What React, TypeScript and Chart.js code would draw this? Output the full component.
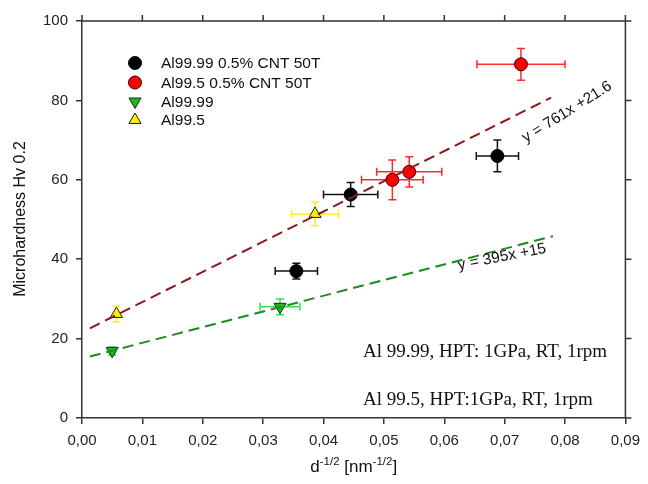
import React, { useEffect, useRef } from 'react';
import { Chart, registerables } from 'chart.js';
Chart.register(...registerables);

// ---- data ----
const xTickValues = [0, 0.01, 0.02, 0.03, 0.04, 0.05, 0.06, 0.07, 0.08, 0.09];
const yTickValues = [0, 20, 40, 60, 80, 100];

const cntPureX = [0.0355, 0.0445, 0.0688];
const cntPureY = [37.0, 56.3, 66.0];
const cntPureXErr = [0.0035, 0.0045, 0.0035];
const cntPureYErr = [2.0, 3.0, 4.0];

const cntAlX = [0.0514, 0.0542, 0.0727];
const cntAlY = [60.0, 62.0, 89.1];
const cntAlXErr = [0.0051, 0.0054, 0.0073];
const cntAlYErr = [5.0, 3.8, 4.0];

const pureX = [0.005, 0.0328];
const pureY = [16.9, 28.0];
const pureXErr = [0.0003, 0.0033];
const pureYErr = [1.0, 2.0];

const alX = [0.0057, 0.0386];
const alY = [26.2, 51.4];
const alXErr = [0.0003, 0.0039];
const alYErr = [2.0, 3.0];

const fitHighX = [0.0013, 0.0777];
const fitHighY = [22.6, 80.7];
const fitLowX = [0.0013, 0.078];
const fitLowY = [15.5, 45.8];

const legendLabels = ['Al99.99 0.5% CNT 50T', 'Al99.5 0.5% CNT 50T', 'Al99.99', 'Al99.5'];
const fitHighLabel = 'y = 761x +21.6';
const fitLowLabel = 'y = 395x +15';
const noteLines = ['Al 99.99, HPT: 1GPa, RT, 1rpm', 'Al 99.5, HPT:1GPa, RT, 1rpm'];
const yTitle = 'Microhardness Hv 0.2';

const SANS = '"Liberation Sans", Arial, sans-serif';
const SERIF = '"Liberation Serif", "Times New Roman", serif';

const pts = (xs: number[], ys: number[]) => xs.map((x, i) => ({ x, y: ys[i] }));

const errSeries = [
  { xs: cntPureX, ys: cntPureY, ex: cntPureXErr, ey: cntPureYErr, color: '#111111' },
  { xs: cntAlX, ys: cntAlY, ex: cntAlXErr, ey: cntAlYErr, color: '#ff2a2a' },
  { xs: pureX, ys: pureY, ex: pureXErr, ey: pureYErr, color: '#3ddc4a' },
  { xs: alX, ys: alY, ex: alXErr, ey: alYErr, color: '#ffee22' },
];

function drawMarker(ctx: CanvasRenderingContext2D, kind: string, x: number, y: number, fill: string, stroke: string) {
  ctx.save();
  ctx.fillStyle = fill;
  ctx.strokeStyle = stroke;
  ctx.lineWidth = 1;
  ctx.beginPath();
  if (kind === 'circle') {
    ctx.arc(x, y, 6.5, 0, Math.PI * 2);
  } else {
    const r = 7;
    const dir = kind === 'down' ? 1 : -1;
    ctx.moveTo(x, y + dir * r);
    ctx.lineTo(x - r * 0.866, y - dir * r * 0.5);
    ctx.lineTo(x + r * 0.866, y - dir * r * 0.5);
    ctx.closePath();
  }
  ctx.fill();
  ctx.stroke();
  ctx.restore();
}

const errorBarPlugin = {
  id: 'errorBars',
  beforeDatasetsDraw(chart: any) {
    const { ctx, scales } = chart;
    const xs = scales.x, ys = scales.y;
    ctx.save();
    ctx.lineWidth = 1.5;
    errSeries.forEach((s) => {
      ctx.strokeStyle = s.color;
      s.xs.forEach((x, i) => {
        const y = s.ys[i];
        const px = xs.getPixelForValue(x);
        const py = ys.getPixelForValue(y);
        const x0 = xs.getPixelForValue(x - s.ex[i]);
        const x1 = xs.getPixelForValue(x + s.ex[i]);
        const y0 = ys.getPixelForValue(y - s.ey[i]);
        const y1 = ys.getPixelForValue(y + s.ey[i]);
        const c = 4;
        ctx.beginPath();
        ctx.moveTo(x0, py); ctx.lineTo(x1, py);
        ctx.moveTo(x0, py - c); ctx.lineTo(x0, py + c);
        ctx.moveTo(x1, py - c); ctx.lineTo(x1, py + c);
        ctx.moveTo(px, y0); ctx.lineTo(px, y1);
        ctx.moveTo(px - c, y0); ctx.lineTo(px + c, y0);
        ctx.moveTo(px - c, y1); ctx.lineTo(px + c, y1);
        ctx.stroke();
      });
    });
    ctx.restore();
  },
};

const decorPlugin = {
  id: 'decor',
  afterDraw(chart: any) {
    const { ctx, chartArea, scales } = chart;
    const { left, right, top, bottom } = chartArea;
    ctx.save();
    // top and right frame with outward ticks
    ctx.strokeStyle = '#333333';
    ctx.lineWidth = 1.5;
    ctx.beginPath();
    ctx.moveTo(left, top); ctx.lineTo(right, top); ctx.lineTo(right, bottom);
    xTickValues.forEach((v) => {
      const px = scales.x.getPixelForValue(v);
      ctx.moveTo(px, top); ctx.lineTo(px, top - 6);
    });
    yTickValues.forEach((v) => {
      const py = scales.y.getPixelForValue(v);
      ctx.moveTo(right, py); ctx.lineTo(right + 6, py);
    });
    ctx.stroke();

    // legend
    const lx = 135, tx = 161;
    const rows = [63, 82.5, 101.5, 120];
    const kinds = ['circle', 'circle', 'down', 'up'];
    const fills = ['#000000', '#ff0000', '#22b422', '#ffee00'];
    const strokes = ['#000000', '#3a0000', '#0a3a0a', '#222222'];
    ctx.font = `15.5px ${SANS}`;
    ctx.textBaseline = 'middle';
    ctx.textAlign = 'left';
    legendLabels.forEach((lab, i) => {
      drawMarker(ctx, kinds[i], lx, rows[i], fills[i], strokes[i]);
      ctx.fillStyle = '#111111';
      ctx.fillText(lab, tx, rows[i] + 1);
    });

    // fit labels
    ctx.fillStyle = '#111111';
    ctx.save();
    ctx.translate(567, 112);
    ctx.rotate(-32 * Math.PI / 180);
    ctx.textAlign = 'center';
    ctx.textBaseline = 'middle';
    ctx.font = `15.5px ${SANS}`;
    ctx.fillText(fitHighLabel, 0, 0);
    ctx.restore();

    ctx.save();
    ctx.translate(502, 257);
    ctx.rotate(-11 * Math.PI / 180);
    ctx.textAlign = 'center';
    ctx.textBaseline = 'middle';
    ctx.font = `15.5px ${SANS}`;
    ctx.fillText(fitLowLabel, 0, 0);
    ctx.restore();

    // notes
    ctx.font = `19px ${SERIF}`;
    ctx.textBaseline = 'alphabetic';
    ctx.textAlign = 'left';
    ctx.fillText(noteLines[0], 363, 357);
    ctx.fillText(noteLines[1], 363, 405);

    // y title
    ctx.save();
    ctx.translate(21, 219);
    ctx.rotate(-Math.PI / 2);
    ctx.textAlign = 'center';
    ctx.textBaseline = 'middle';
    ctx.font = `16px ${SANS}`;
    ctx.fillText(yTitle, 0, 0);
    ctx.restore();

    // x title with superscripts
    const parts = [
      { t: 'd', sup: false },
      { t: '-1/2', sup: true },
      { t: ' [nm', sup: false },
      { t: '-1/2', sup: true },
      { t: ']', sup: false },
    ];
    const fBase = `17px ${SANS}`;
    const fSup = `11.5px ${SANS}`;
    let total = 0;
    parts.forEach((p) => { ctx.font = p.sup ? fSup : fBase; total += ctx.measureText(p.t).width; });
    let cx = (left + right) / 2 - total / 2;
    const base = 472;
    ctx.textBaseline = 'alphabetic';
    parts.forEach((p) => {
      ctx.font = p.sup ? fSup : fBase;
      ctx.fillText(p.t, cx, p.sup ? base - 7 : base);
      cx += ctx.measureText(p.t).width;
    });
    ctx.restore();
  },
};

export default function App() {
  const ref = useRef<HTMLCanvasElement | null>(null);
  useEffect(() => {
    if (!ref.current) return;
    const chart = new Chart(ref.current, {
      type: 'scatter',
      data: {
        datasets: [
          {
            type: 'line', data: pts(fitHighX, fitHighY), borderColor: '#8b1a1a', borderWidth: 2,
            borderDash: [11, 6], pointRadius: 0, fill: false, order: 0,
          } as any,
          {
            type: 'line', data: pts(fitLowX, fitLowY), borderColor: '#1f8a1f', borderWidth: 2,
            borderDash: [11, 6], pointRadius: 0, fill: false, order: 0,
          } as any,
          {
            data: pts(cntPureX, cntPureY), pointStyle: 'circle', pointRadius: 6.5,
            backgroundColor: '#000000', borderColor: '#000000', borderWidth: 1, order: 1,
          },
          {
            data: pts(cntAlX, cntAlY), pointStyle: 'circle', pointRadius: 6.5,
            backgroundColor: '#ff0000', borderColor: '#3a0000', borderWidth: 1, order: 1,
          },
          {
            data: pts(pureX, pureY), pointStyle: 'triangle', pointRotation: 180, pointRadius: 7,
            backgroundColor: '#22b422', borderColor: '#0a3a0a', borderWidth: 1, order: 1,
          },
          {
            data: pts(alX, alY), pointStyle: 'triangle', pointRadius: 7,
            backgroundColor: '#ffee00', borderColor: '#222222', borderWidth: 1, order: 1,
          },
        ],
      },
      options: {
        animation: false,
        responsive: false,
        layout: { padding: { top: 21, right: 16, left: 0, bottom: 0 } },
        plugins: { legend: { display: false }, tooltip: { enabled: false } },
        scales: {
          x: {
            type: 'linear', min: 0, max: 0.09,
            afterFit: (s: any) => { s.height = 66; },
            afterBuildTicks: (s: any) => { s.ticks = xTickValues.map((v) => ({ value: v })); },
            ticks: {
              font: { family: SANS, size: 15 }, color: '#222222', padding: 8,
              callback: (v: any) => Number(v).toFixed(2).replace('.', ','),
            },
            grid: { display: true, drawOnChartArea: false, drawTicks: true, tickLength: 6, color: '#333333', lineWidth: 1.5 },
            border: { display: true, color: '#333333', width: 1.5 },
          },
          y: {
            type: 'linear', min: 0, max: 100,
            afterFit: (s: any) => { s.width = 82; },
            afterBuildTicks: (s: any) => { s.ticks = yTickValues.map((v) => ({ value: v })); },
            ticks: { font: { family: SANS, size: 15 }, color: '#222222', padding: 8 },
            grid: { display: true, drawOnChartArea: false, drawTicks: true, tickLength: 6, color: '#333333', lineWidth: 1.5 },
            border: { display: true, color: '#333333', width: 1.5 },
          },
        },
      },
      plugins: [errorBarPlugin, decorPlugin],
    } as any);
    return () => chart.destroy();
  }, []);
  return (
    <div style={{ position: 'fixed', left: 0, top: 0, width: 648, height: 484, background: '#ffffff' }}>
      <canvas ref={ref} width={648} height={484} />
    </div>
  );
}
